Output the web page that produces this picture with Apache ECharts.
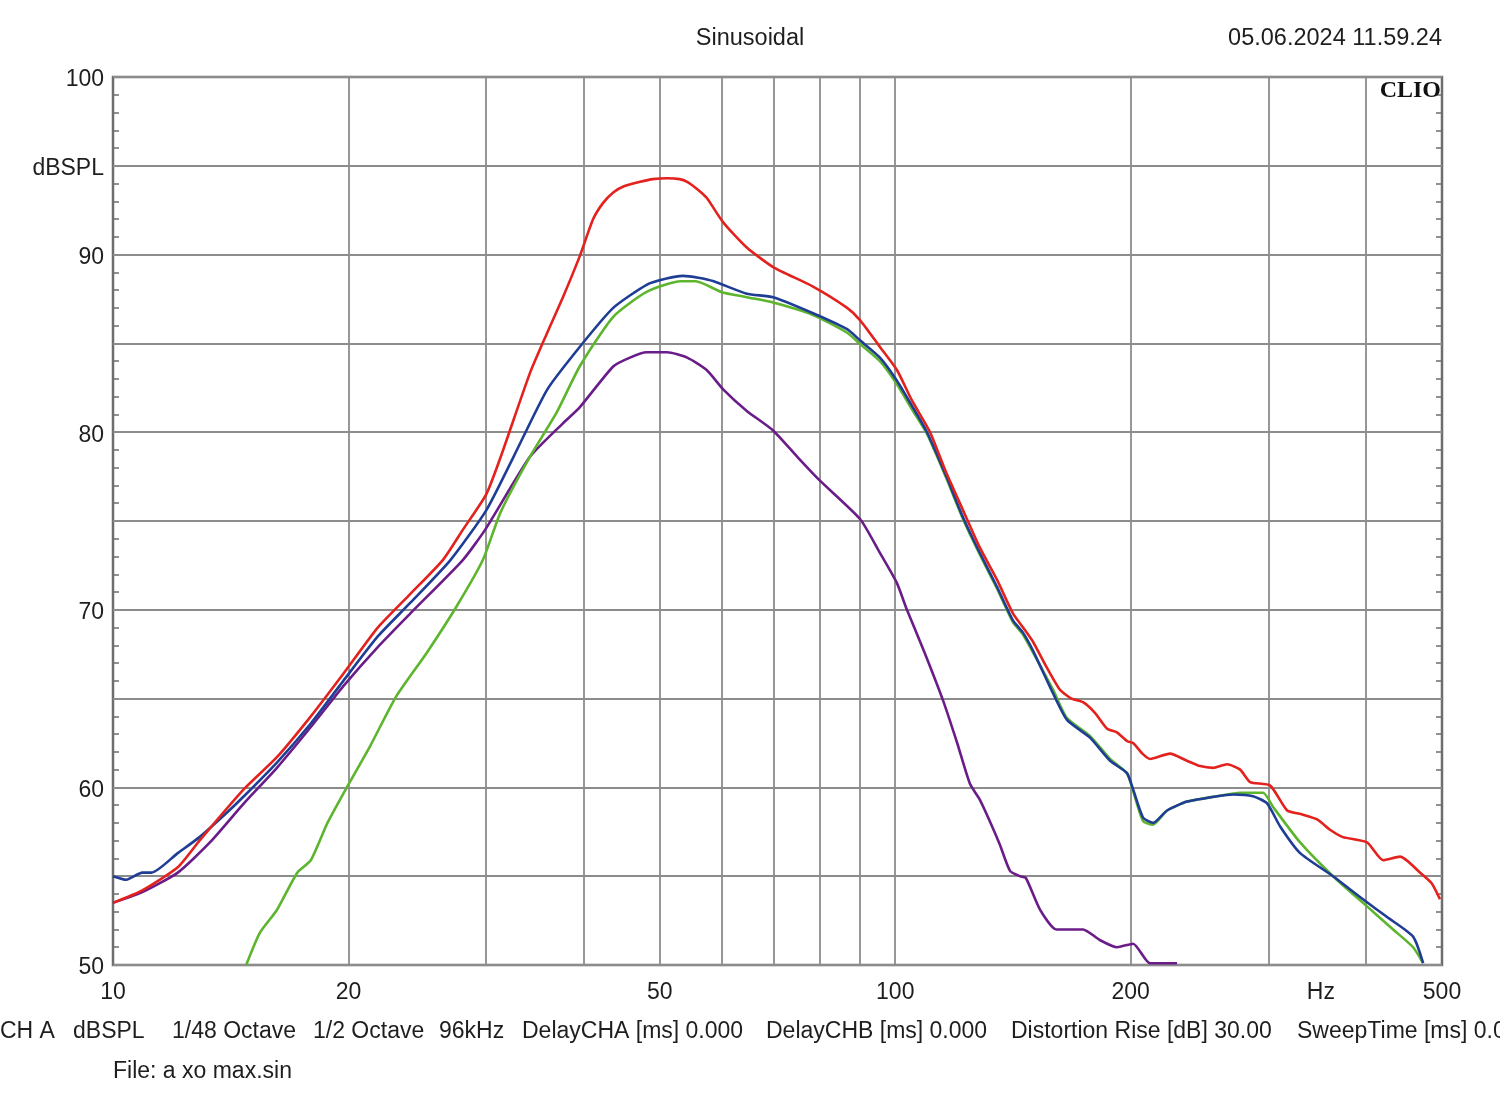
<!DOCTYPE html>
<html>
<head>
<meta charset="utf-8">
<script src="https://cdn.jsdelivr.net/npm/echarts@6/dist/echarts.min.js"></script>
<style>
html,body{margin:0;padding:0;background:#fff;}
#chart{width:1500px;height:1110px;}
</style>
</head>
<body>
<div id="chart"></div>
<script>
// ---- data (frequency in Hz, level in dBSPL) ----
const redFreq = [10,10.9,12.1,12.9,14.7,16.2,17.9,19.7,21.8,24.0,26.4,28,30,31.3,34.1,35.9,37.6,39.5,41.1,42.3,43.6,45,47.2,49,51.1,53,54.2,55.8,57.4,60.3,64.6,69.8,78.5,86.8,90.2,95.6,100.5,105,110.8,116,122.1,128.3,134.9,141.4,145.7,150,156,162.4,168,173.8,180,186.6,192,198,201.4,207,211.7,224.5,236,245.3,255,265.6,276,284.2,301.5,317,330,346.2,360,373.6,401,420.4,442,468.8,485,497];
const redDb   = [53.5,54.2,55.5,57.0,59.9,61.7,64.0,66.4,69.0,70.9,72.8,74.5,76.5,78.6,83.3,85.6,87.6,89.9,92.0,92.9,93.5,93.85,94.1,94.25,94.3,94.25,94.1,93.7,93.2,91.8,90.4,89.3,88.2,87.0,86.3,84.8,83.5,81.8,80.0,77.8,75.6,73.5,71.7,69.8,69.0,68.2,66.8,65.5,65.0,64.8,64.2,63.3,63.1,62.6,62.5,61.9,61.6,61.9,61.5,61.2,61.1,61.3,61.0,60.3,60.1,58.7,58.5,58.2,57.6,57.2,56.9,55.9,56.1,55.2,54.6,53.7];

const blueFreq = [10,10.4,10.9,11.2,12.1,12.9,14.0,14.7,16.2,17.9,19.7,21.8,24.0,27.0,30,32.5,35.9,39.5,43.6,48.1,51,53.5,56,58.6,64.6,69.8,78.5,86.8,90,95.6,100.5,105,109.8,116,122.1,128.3,134.9,141.4,145.7,150,159.1,165.8,177.4,188.2,197.8,201.4,207.4,213.6,222.6,236.1,257.9,270.4,286.7,298.8,310.5,329.3,362.8,396.3,425.4,459.2,473];
const blueDb   = [55.0,54.8,55.2,55.2,56.3,57.2,58.6,59.5,61.4,63.6,66.0,68.5,70.4,72.8,75.6,78.6,82.4,84.8,87.0,88.3,88.65,88.8,88.7,88.5,87.8,87.6,86.7,85.8,85.2,84.2,82.9,81.5,80.0,77.6,75.2,73.2,71.3,69.4,68.7,67.7,65.3,63.8,62.8,61.5,60.8,59.9,58.3,58.0,58.7,59.2,59.5,59.6,59.5,59.1,57.8,56.3,55.0,53.7,52.7,51.6,50.1];

const greenFreq = [14.8,15.4,16.2,17.2,17.9,18.8,19.9,21.3,23.0,25.2,27.5,29.7,31.3,34.1,36.9,39.5,43.6,48.1,53.2,55.6,59.9,64.6,69.8,78.5,86.8,90,95.6,100.5,105,109.8,116,122.1,128.3,134.9,141.4,145.7,150,159.1,165.8,177.4,188.2,197.8,201.4,207.4,213.6,222.6,236.1,257.9,276,295.3,304.1,329.3,362.8,401,433,459.2,473];
const greenDb   = [50.0,51.8,53.1,55.2,55.9,58.0,60.0,62.3,65.1,67.6,70.2,72.8,75.5,78.6,81.1,83.7,86.5,87.9,88.5,88.5,87.9,87.6,87.3,86.6,85.6,85.0,84.0,82.7,81.3,79.9,77.5,75.1,73.1,71.2,69.3,68.6,67.6,65.5,63.9,62.9,61.6,60.8,59.8,58.1,57.9,58.7,59.2,59.5,59.7,59.7,58.9,56.9,55.0,53.3,52.0,51.0,50.1];

const purpleFreq = [10,10.9,12.1,13.3,14.7,16.2,17.9,19.7,21.8,24.0,28.0,30,34.1,37.6,39.5,43.6,45.8,48.1,51.1,54.2,57.4,60.3,64.6,69.8,75.0,80.0,90.2,95.6,100.5,103.5,109,115.1,120,124.6,128.3,132.4,136,140.2,144.4,146.9,153.2,160.7,173.8,182.7,192.1,201.4,211.7,229.2];
const purpleDb   = [53.5,54.1,55.2,56.9,59.1,61.1,63.4,65.7,67.9,69.8,72.8,74.6,78.6,80.5,81.4,83.7,84.2,84.5,84.5,84.2,83.5,82.4,81.2,80.1,78.6,77.3,75.1,73.2,71.5,70.0,67.6,64.9,62.5,60.2,59.3,58.0,56.8,55.3,55.0,54.9,53.1,52.0,52.0,51.4,51.0,51.2,50.1,50.1];

const xGridFreqs = [20,30,40,50,60,70,80,90,100,200,300,400];
const xTickLabels = [10,20,50,100,200,500];
const xUnitLabel = {freq: 350, text: 'Hz'};
const yMin = 50, yMax = 100;

const titleText = 'Sinusoidal';
const dateText = '05.06.2024 11.59.24';
const footerItems = ['CH A','dBSPL','1/48 Octave','1/2 Octave','96kHz','DelayCHA [ms] 0.000','DelayCHB [ms] 0.000','Distortion Rise [dB] 30.00','SweepTime [ms] 0.0'];
const fileText = 'File: a xo max.sin';

// ---- chart ----
const FONT = '"Liberation Sans", Arial, sans-serif';
const pair = (f, d) => f.map((v, i) => [v, d[i]]);
const chart = echarts.init(document.getElementById('chart'), null, {renderer: 'canvas'});

const footerX = [0,73,172,313,439,522,766,1011,1297];

const lineSeries = (name, color, f, d) => ({
  name, type: 'line', data: pair(f, d), showSymbol: false, symbol: 'none',
  smooth: 0.2,
  lineStyle: {color, width: 2.6}, z: 5, animation: false, clip: true
});

const minorTickStyle = {show: true, splitNumber: 5, length: 6, lineStyle: {color: '#6e6e6e', width: 1.5}};

const option = {
  animation: false,
  backgroundColor: '#ffffff',
  grid: {left: 113, right: 58, top: 77, bottom: 145, show: true, borderColor: '#6e6e6e', borderWidth: 2.5, backgroundColor: 'transparent'},
  xAxis: {
    type: 'log', logBase: 10, min: 10, max: 500,
    axisLine: {show: false}, axisTick: {show: false}, axisLabel: {show: false},
    splitLine: {show: false}
  },
  yAxis: [{
    type: 'value', min: yMin, max: yMax, interval: 5, position: 'left',
    axisLine: {show: false},
    axisTick: {show: false, inside: true},
    minorTick: minorTickStyle,
    axisLabel: {
      fontFamily: FONT, fontSize: 23, color: '#1e1e1e', margin: 9,
      verticalAlign: 'top', lineHeight: 6,
      formatter: v => (v % 10 === 0 ? String(v) : (v === 95 ? 'dBSPL' : ''))
    },
    splitLine: {show: true, lineStyle: {color: '#8c8c8c', width: 1.8}}
  }, {
    type: 'value', min: yMin, max: yMax, interval: 5, position: 'right',
    axisLine: {show: false}, axisTick: {show: false, inside: true}, axisLabel: {show: false},
    minorTick: minorTickStyle,
    splitLine: {show: false}
  }],
  graphic: [
    {type: 'text', left: 'center', top: 27, style: {text: titleText, font: '23.5px ' + FONT, fill: '#1e1e1e'}},
    {type: 'text', right: 58, top: 27, style: {text: dateText, font: '23.5px ' + FONT, fill: '#1e1e1e'}},
    {type: 'text', right: 59, top: 79, z: 10, style: {text: 'CLIO', font: 'bold 24px "Liberation Serif", "DejaVu Serif", serif', fill: '#111'}},
    ...footerItems.map((t, i) => ({type: 'text', left: footerX[i], top: 1020, style: {text: t, font: '23px ' + FONT, fill: '#1e1e1e'}})),
    {type: 'text', left: 113, top: 1060, style: {text: fileText, font: '23px ' + FONT, fill: '#1e1e1e'}}
  ],
  series: [
    {
      type: 'line', data: [], silent: true, z: 1,
      markLine: {
        silent: true, symbol: ['none', 'none'], animation: false,
        label: {show: false},
        lineStyle: {color: '#8c8c8c', width: 1.8, type: 'solid'},
        data: xGridFreqs.map(f => ({xAxis: f}))
      },
      markPoint: {
        silent: true, symbol: 'circle', symbolSize: 0, animation: false,
        label: {show: true, position: 'inside', offset: [0, 28], fontFamily: FONT, fontSize: 23, color: '#1e1e1e'},
        data: xTickLabels.map(f => ({coord: [f, yMin], value: f, label: {formatter: String(f)}}))
          .concat([{coord: [xUnitLabel.freq, yMin], value: 0, label: {formatter: xUnitLabel.text}}])
      }
    },
    lineSeries('purple', '#6a1d88', purpleFreq, purpleDb),
    lineSeries('green', '#5db52e', greenFreq, greenDb),
    lineSeries('blue', '#1f3d95', blueFreq, blueDb),
    lineSeries('red', '#e3221d', redFreq, redDb)
  ]
};
chart.setOption(option);
</script>
</body>
</html>
